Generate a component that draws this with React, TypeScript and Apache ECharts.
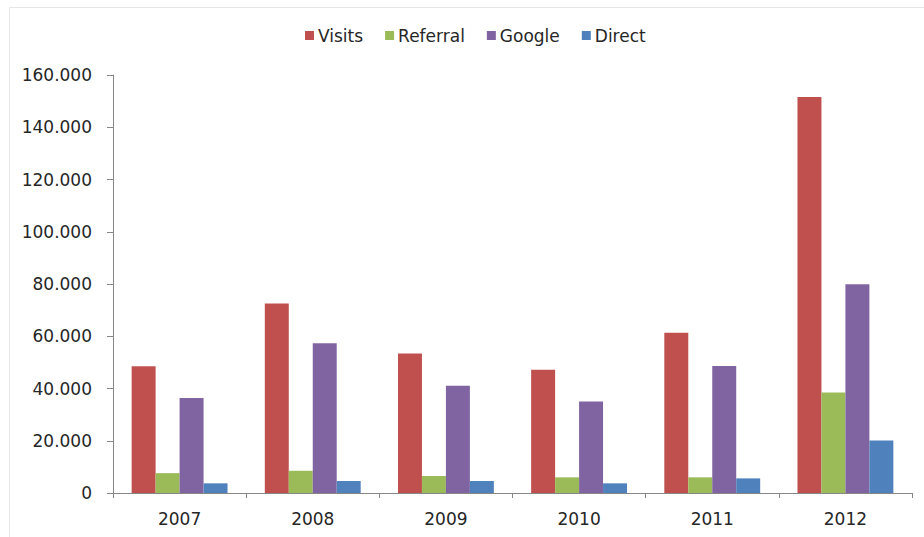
import React, { useEffect, useRef } from "react";
import * as echarts from "echarts";

const years = ["2007", "2008", "2009", "2010", "2011", "2012"];
const visits = [48500, 72500, 53400, 47200, 61300, 151600];
const referral = [7600, 8500, 6500, 6000, 6000, 38500];
const google = [36400, 57300, 41100, 35000, 48600, 79900];
const direct = [3700, 4600, 4600, 3700, 5600, 20100];

const FONT = "DejaVu Sans";
const TEXT = "#262626";
const AXIS = "#868686";

function formatThousands(v: number): string {
  return String(Math.round(v)).replace(/\B(?=(\d{3})+(?!\d))/g, ".");
}

export default function App() {
  const ref = useRef<HTMLDivElement>(null);

  useEffect(() => {
    if (!ref.current) return;
    const chart = echarts.init(ref.current, null, { renderer: "svg" });
    const bar = (name: string, data: number[], color: string) => ({
      name,
      type: "bar" as const,
      data,
      barGap: "0%",
      barCategoryGap: "28%",
      itemStyle: { color },
    });
    chart.setOption({
      animation: false,
      backgroundColor: "#ffffff",
      textStyle: { fontFamily: FONT },
      graphic: [
        {
          type: "rect",
          shape: { x: 9.5, y: 7.5, width: 940, height: 540 },
          style: { fill: "none", stroke: "#e6e6e6", lineWidth: 1 },
          silent: true,
        },
      ],
      legend: {
        left: 300,
        top: 22,
        itemWidth: 9,
        itemHeight: 9,
        itemGap: 22,
        icon: "rect",
        textStyle: { fontFamily: FONT, fontSize: 17, color: TEXT, padding: [0, 0, 0, -1] },
        data: ["Visits", "Referral", "Google", "Direct"],
      },
      grid: { left: 113, right: 12, top: 75, bottom: 44, containLabel: false },
      xAxis: {
        type: "category",
        data: years,
        boundaryGap: true,
        axisLine: { lineStyle: { color: AXIS, width: 1 } },
        axisTick: { show: true, length: 5, lineStyle: { color: AXIS } },
        axisLabel: { fontFamily: FONT, fontSize: 17, color: TEXT, margin: 17 },
        splitLine: { show: false },
      },
      yAxis: {
        type: "value",
        min: 0,
        max: 160000,
        interval: 20000,
        axisLine: { show: true, lineStyle: { color: AXIS, width: 1 } },
        axisTick: { show: true, length: 6, lineStyle: { color: AXIS } },
        axisLabel: {
          fontFamily: FONT,
          fontSize: 17,
          color: TEXT,
          margin: 21,
          formatter: (v: number) => formatThousands(v),
        },
        splitLine: { show: false },
      },
      series: [
        bar("Visits", visits, "#C0504D"),
        bar("Referral", referral, "#9BBB59"),
        bar("Google", google, "#8064A2"),
        bar("Direct", direct, "#4F81BD"),
      ],
    });
    return () => chart.dispose();
  }, []);

  return (
    <div
      ref={ref}
      style={{ position: "absolute", left: 0, top: 0, width: 924, height: 537 }}
    />
  );
}
